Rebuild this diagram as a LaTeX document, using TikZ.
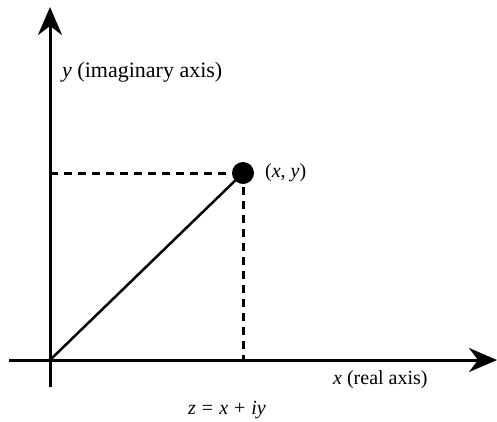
\documentclass[tikz,border=0pt]{standalone}
\usepackage{fontspec}
\setmainfont{Liberation Serif}
\usetikzlibrary{arrows.meta}
\newcommand{\gap}{\hspace{0.3em}}
\begin{document}
\begin{tikzpicture}[x=1pt,y=-1pt,
  axis/.style={line width=3pt,-{Stealth[length=28pt,width=24pt,inset=9pt]}},
  guide/.style={line width=3pt,dash pattern=on 8pt off 6pt},
  lbl/.style={font=\fontsize{20}{24}\selectfont,inner sep=0pt}]
\useasboundingbox (0,0) rectangle (497,421);
\coordinate (o) at (50,360);
\coordinate (xb) at (9,360);
\coordinate (xe) at (497,360);
\coordinate (yb) at (50,387);
\coordinate (ye) at (50,7);
\coordinate (yl) at (50,173);
\coordinate (xl) at (243,360);
\node[circle,fill=black,minimum size=22pt,inner sep=0pt] (p) at (243,173) {};
\draw[axis] (xb) -- (xe);
\draw[axis] (yb) -- (ye);
\draw[guide] (yl) -- (p.center);
\draw[guide] (p.center) -- (xl);
\draw[line width=2.5pt] (o) -- (p.center);
\node[lbl,anchor=west] (py) at (265,173) {(\textit{x}, \textit{y})};
\node[lbl,anchor=west,font=\fontsize{22}{26}\selectfont] (ya) at (62,72) {\textit{y} (imaginary axis)};
\node[lbl,anchor=west] (xa) at (333,380) {\textit{x} (real axis)};
\node[lbl,anchor=west] (z) at (188,410) {\textit{z}\gap=\gap\textit{x}\gap+\gap\textit{iy}};
\end{tikzpicture}
\end{document}
